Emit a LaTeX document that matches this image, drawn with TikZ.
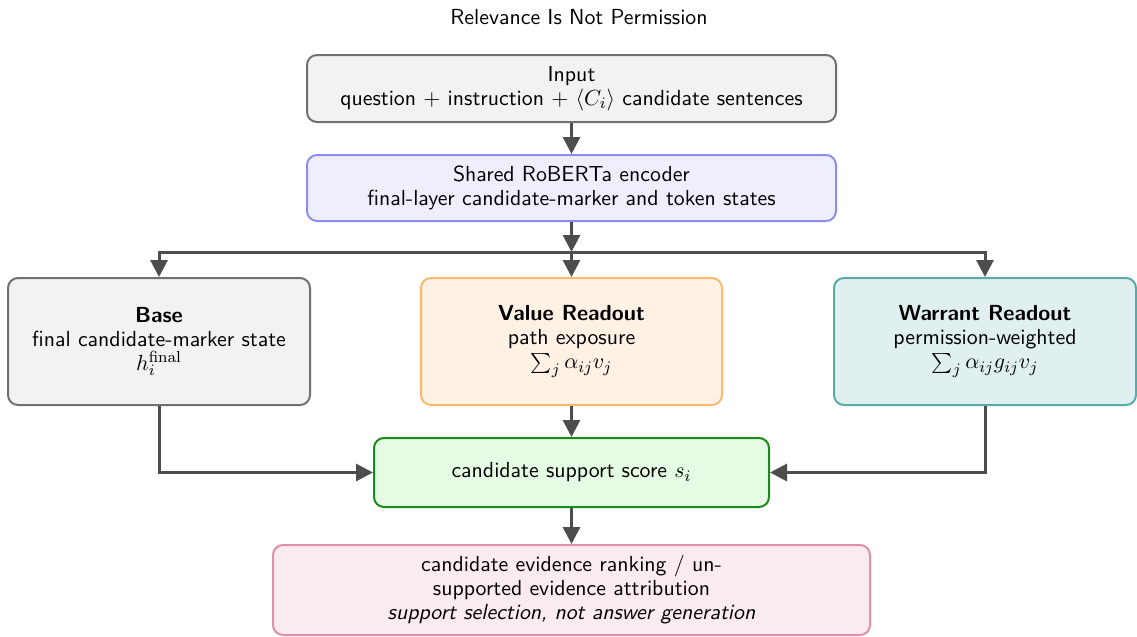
\documentclass[tikz,border=0pt]{standalone}
\usetikzlibrary{arrows.meta,positioning}
\renewcommand{\familydefault}{\sfdefault}
\definecolor{arrowgray}{HTML}{4D4D4D}
\definecolor{inpfill}{HTML}{F2F2F2}
\definecolor{inpdraw}{HTML}{707070}
\definecolor{encfill}{HTML}{EFEFFC}
\definecolor{encdraw}{HTML}{8C8CF5}
\definecolor{valfill}{HTML}{FFF1E4}
\definecolor{valdraw}{HTML}{FBB96D}
\definecolor{warfill}{HTML}{E0F0F0}
\definecolor{wardraw}{HTML}{5AAAAA}
\definecolor{scofill}{HTML}{E4FCE4}
\definecolor{scodraw}{HTML}{1A8A1A}
\definecolor{outfill}{HTML}{FAEBF0}
\definecolor{outdraw}{HTML}{E08FAB}
\tikzset{
  box/.style={draw, line width=1pt, rounded corners=5pt, align=center,
    inner sep=0pt, font=\sffamily\fontsize{10.9}{12}\selectfont},
  arr/.style={draw=arrowgray, line width=1.5pt,
    -{Triangle[length=8.5pt,width=8.5pt]}},
}
\begin{document}
\begin{tikzpicture}[x=0.5pt,y=-0.5pt]
\useasboundingbox (0,0) rectangle (1137,637);

\node[font=\sffamily\fontsize{10.9}{12}\selectfont] (title) at (579,17) {Relevance Is Not Permission};

\node[box, fill=inpfill, draw=inpdraw, minimum width=264.5pt, minimum height=33.5pt]
  (inp) at (571.5,88.5)
  {Input\\question $+$ instruction $+$ $\langle C_i\rangle$ candidate sentences};

\node[box, fill=encfill, draw=encdraw, minimum width=264.5pt, minimum height=33pt]
  (enc) at (571.5,188)
  {Shared RoBERTa encoder\\final-layer candidate-marker and token states};

\node[box, fill=inpfill, draw=inpdraw, minimum width=151pt, minimum height=63.5pt]
  (base) at (159,341.5)
  {\textbf{Base}\\final candidate-marker state\\$h_i^{\mathrm{final}}$};

\node[box, fill=valfill, draw=valdraw, minimum width=150.5pt, minimum height=63.5pt]
  (val) at (571.5,341.5)
  {\textbf{Value Readout}\\path exposure\\$\sum_j \alpha_{ij} v_j$};

\node[box, fill=warfill, draw=wardraw, minimum width=151pt, minimum height=63.5pt]
  (war) at (985,341.5)
  {\textbf{Warrant Readout}\\permission-weighted\\$\sum_j \alpha_{ij} g_{ij} v_j$};

\node[box, fill=scofill, draw=scodraw, minimum width=197.5pt, minimum height=34.5pt]
  (sco) at (571.5,472.5)
  {candidate support score $s_i$};

\node[box, fill=outfill, draw=outdraw, minimum width=298.5pt, minimum height=45pt]
  (out) at (571.5,590)
  {candidate evidence ranking / un-\\supported evidence attribution\\\textit{support selection, not answer generation}};

\coordinate (split) at (571.5,252);

\draw[arr] (inp) -- (enc);
\draw[arr] (enc) -- (split);
\draw[arr] (split) -| (base.north);
\draw[arr] (split) -- (val);
\draw[arr] (split) -| (war.north);
\draw[arr] (val) -- (sco);
\draw[arr] (base.south) |- (sco.west);
\draw[arr] (war.south) |- (sco.east);
\draw[arr] (sco) -- (out);
\end{tikzpicture}
\end{document}
